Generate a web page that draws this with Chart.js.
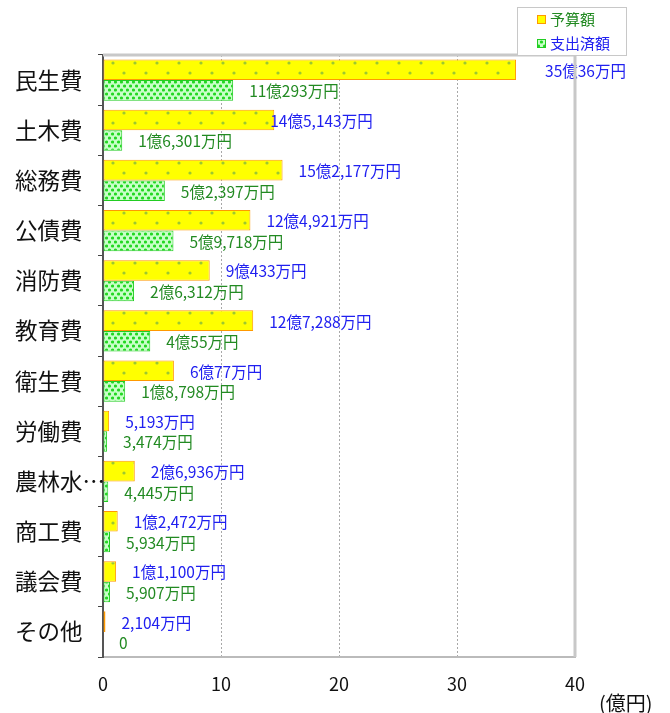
<!DOCTYPE html>
<html lang="ja">
  <head>
    <meta charset="utf-8" />
    <title>歳出 予算額と支出済額</title>
    <style>
      * { margin: 0; padding: 0; }
      body { background: #fff; }
      .chartBox { width: 670px; height: 713px; position: relative; }
    </style>
  </head>
  <body>
    <div class="chartBox"><canvas id="myChart"></canvas></div>

    <script src="https://cdn.jsdelivr.net/npm/chart.js@4.4.1/dist/chart.umd.min.js"></script>
    <script>
      // data block (単位: 億円)
      const categories = ["民生費", "土木費", "総務費", "公債費", "消防費", "教育費",
        "衛生費", "労働費", "農林水…", "商工費", "議会費", "その他"];
      const budget = [35.0036, 14.5143, 15.2177, 12.4921, 9.0433, 12.7288,
        6.0077, 0.5193, 2.6936, 1.2472, 1.11, 0.2104];
      const spent = [11.0293, 1.6301, 5.2397, 5.9718, 2.6312, 4.0055,
        1.8798, 0.3474, 0.4445, 0.5934, 0.5907, 0];
      const xTicks = [0, 10, 20, 30, 40];

      const FONT = '"Noto Sans CJK JP", "Noto Sans", sans-serif';
      const BLUE = "#2020f0";
      const GREEN = "#228a22";

      // 35.0036 -> "35億36万円"
      function yenLabel(v) {
        const man = Math.round(v * 10000);
        if (man === 0) return "0";
        const oku = Math.floor(man / 10000);
        const rest = man % 10000;
        let s = oku > 0 ? oku + "億" : "";
        if (rest > 0) s += rest.toLocaleString("en-US") + "万";
        return s + "円";
      }

      // fill patterns
      function makePattern(w, h, bg, dot, dots, r) {
        const c = document.createElement("canvas");
        c.width = w;
        c.height = h;
        const g = c.getContext("2d");
        g.fillStyle = bg;
        g.fillRect(0, 0, w, h);
        g.fillStyle = dot;
        dots.forEach(([x, y]) => {
          g.beginPath();
          g.arc(x, y, r, 0, Math.PI * 2);
          g.fill();
        });
        return g.createPattern(c, "repeat");
      }
      const yellowFill = makePattern(22, 20, "#ffff00", "#9cc830", [[3, 3], [14, 13]], 1.6);
      const greenFill = makePattern(6, 8, "#c8ffc8", "#22d822", [[1.5, 2], [4.5, 6]], 1.6);

      // a couple of labels sit off the usual spot in the original
      const labelShift = { "0-0": 13, "0-1": -20 };

      const barLabels = {
        id: "barLabels",
        afterDatasetsDraw(chart) {
          const ctx = chart.ctx;
          ctx.save();
          ctx.font = "15.5px " + FONT;
          ctx.textBaseline = "middle";
          ctx.textAlign = "left";
          chart.data.datasets.forEach((ds, di) => {
            const meta = chart.getDatasetMeta(di);
            ctx.fillStyle = di === 0 ? BLUE : GREEN;
            meta.data.forEach((bar, i) => {
              const shift = labelShift[di + "-" + i] || 0;
              ctx.fillText(yenLabel(ds.data[i]), bar.x + 16 + shift, bar.y + 1);
            });
          });
          ctx.restore();
        },
      };

      const frame = {
        id: "frame",
        afterDraw(chart) {
          const { ctx, chartArea: a } = chart;
          ctx.save();
          // top and right border
          ctx.strokeStyle = "#c8c8c8";
          ctx.lineWidth = 3;
          ctx.beginPath();
          ctx.moveTo(a.left, a.top);
          ctx.lineTo(a.right, a.top);
          ctx.lineTo(a.right, a.bottom);
          ctx.stroke();

          // legend
          ctx.fillStyle = "#fff";
          ctx.fillRect(517, 7, 109, 48);
          ctx.strokeStyle = "#c8c8c8";
          ctx.lineWidth = 1;
          ctx.strokeRect(517.5, 7.5, 109, 48);
          const items = [
            { text: "予算額", fill: yellowFill, border: "#ff9900", color: GREEN, y: 19 },
            { text: "支出済額", fill: greenFill, border: "#22cc22", color: BLUE, y: 43 },
          ];
          ctx.font = "15px " + FONT;
          ctx.textBaseline = "middle";
          items.forEach((it) => {
            ctx.fillStyle = it.fill;
            ctx.fillRect(537, it.y - 4, 9, 9);
            ctx.strokeStyle = it.border;
            ctx.strokeRect(537.5, it.y - 3.5, 8, 8);
            ctx.fillStyle = it.color;
            ctx.fillText(it.text, 550, it.y);
          });

          // unit
          ctx.fillStyle = "#111";
          ctx.font = "20px " + FONT;
          ctx.textAlign = "left";
          ctx.fillText("(億円)", 599, 703);
          ctx.restore();
        },
      };

      const data = {
        labels: categories,
        datasets: [
          {
            label: "予算額",
            data: budget,
            backgroundColor: yellowFill,
            borderColor: "#ff9900",
            borderWidth: 1,
            borderSkipped: false,
          },
          {
            label: "支出済額",
            data: spent,
            backgroundColor: greenFill,
            borderColor: "#22cc22",
            borderWidth: 1,
            borderSkipped: false,
          },
        ],
      };

      const config = {
        type: "bar",
        data: data,
        options: {
          indexAxis: "y",
          responsive: true,
          maintainAspectRatio: false,
          animation: false,
          datasets: {
            bar: { categoryPercentage: 0.82, barPercentage: 1.0 },
          },
          layout: { padding: { top: 55, right: 95, left: 15, bottom: 0 } },
          plugins: {
            legend: { display: false },
            tooltip: { enabled: false },
          },
          scales: {
            x: {
              min: 0,
              max: 40,
              afterBuildTicks(scale) {
                scale.ticks = xTicks.map((v) => ({ value: v }));
              },
              afterFit(scale) {
                scale.height = 56;
              },
              grid: {
                color: (c) => (c.tick && c.tick.value > 0 && c.tick.value < 40 ? "#a8a8a8" : "rgba(0,0,0,0)"),
                drawTicks: false,
                lineWidth: 1,
              },
              border: { color: "#bbbbbb", width: 2, dash: [2, 2] },
              ticks: {
                color: "#111",
                font: { size: 18, family: FONT },
                padding: 16,
                maxRotation: 0,
                autoSkip: false,
              },
            },
            y: {
              afterFit(scale) {
                scale.width = 88;
              },
              grid: {
                drawOnChartArea: false,
                drawTicks: true,
                tickLength: 5,
                color: "#444",
                offset: true,
              },
              border: { color: "#555", width: 2 },
              ticks: {
                color: "#111",
                font: { size: 22.5, family: FONT },
                crossAlign: "far",
                autoSkip: false,
              },
            },
          },
        },
        plugins: [barLabels, frame],
      };

      const ctx = document.getElementById("myChart");
      const myChart = new Chart(ctx, config);
    </script>
  </body>
</html>
